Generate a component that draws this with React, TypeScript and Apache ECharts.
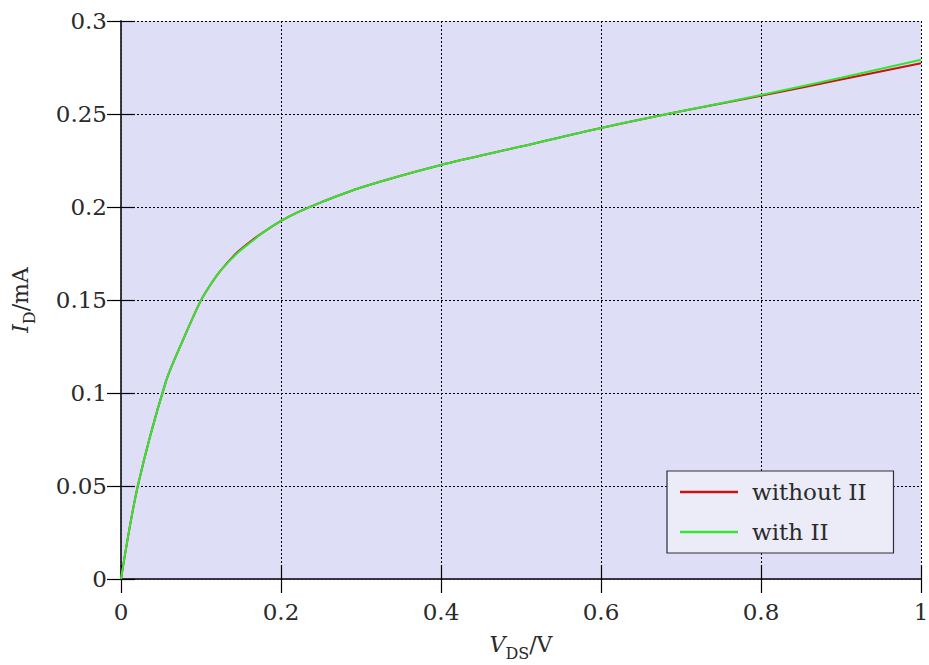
import React, { useEffect, useRef } from "react";
import * as echarts from "echarts";

const vds = [0, 0.021, 0.056, 0.077, 0.099, 0.11, 0.124, 0.145, 0.165, 0.18, 0.2, 0.22, 0.25, 0.3, 0.4, 0.5, 0.6, 0.7, 0.8, 0.9, 1.0];
const idWithout = [0, 0.05, 0.106, 0.128, 0.149, 0.157, 0.1655, 0.1755, 0.1825, 0.187, 0.1925, 0.197, 0.2025, 0.2105, 0.2226, 0.2325, 0.2425, 0.2515, 0.2598, 0.2685, 0.2773];
const idWith = [0, 0.05, 0.106, 0.128, 0.149, 0.157, 0.1655, 0.175, 0.182, 0.187, 0.1925, 0.197, 0.2025, 0.2105, 0.2226, 0.2325, 0.2425, 0.2515, 0.2602, 0.2695, 0.2792];
const seriesNames = ["without II", "with II"];
const xTicks = [0, 0.2, 0.4, 0.6, 0.8, 1];
const yTicks = [0, 0.05, 0.1, 0.15, 0.2, 0.25, 0.3];

const FONT = "DejaVu Serif";
const FRAME = "#2e2e38";
const TEXT = "#2a2a2a";

export default function App() {
  const ref = useRef<HTMLDivElement>(null);
  useEffect(() => {
    const chart = echarts.init(ref.current!, null, { renderer: "svg" });
    const tickStyle = { show: true, inside: true, length: 14, lineStyle: { color: "#000", width: 1.2 } };
    const axisLine = { show: true, lineStyle: { color: FRAME, width: 1.5 } };
    const grid = { show: true, lineStyle: { color: "#000", width: 1, type: [2, 2] as any } };
    const rich = {
      i: { fontFamily: FONT, fontSize: 22, fontStyle: "italic", color: TEXT, lineHeight: 24, verticalAlign: "top" },
      s: { fontFamily: FONT, fontSize: 16, color: TEXT, lineHeight: 16, padding: [12, 0, 0, 0], verticalAlign: "top" },
      n: { fontFamily: FONT, fontSize: 22, color: TEXT, lineHeight: 24, verticalAlign: "top" },
    };
    chart.setOption({
      animation: false,
      backgroundColor: "#ffffff",
      grid: {
        left: 121, top: 21, right: 8, bottom: 86,
        outerBoundsMode: "none", containLabel: false,
        show: true, backgroundColor: "#dedef7", borderWidth: 0,
      },
      legend: {
        data: seriesNames.map((n) => ({ name: n, icon: "rect" })),
        orient: "vertical",
        left: 667, top: 471,
        padding: [8, 27, 8, 13],
        itemGap: 14,
        itemWidth: 58, itemHeight: 2.5,
        backgroundColor: "#ececf9",
        borderColor: FRAME, borderWidth: 1.2, borderRadius: 0,
        textStyle: { fontFamily: FONT, fontSize: 23, color: TEXT, lineHeight: 26, padding: [0, 0, 0, 9] },
        align: "left",
      },
      xAxis: [
        {
          type: "value", min: 0, max: 1, interval: 0.2, position: "bottom",
          axisLine, axisTick: tickStyle, splitLine: grid,
          axisLabel: { fontFamily: FONT, fontSize: 23, color: TEXT, margin: 21,
            formatter: (v: number) => String(xTicks.find((t) => Math.abs(t - v) < 1e-9) ?? v) },
          name: "{i|V}{s|DS}{n|/V}", nameLocation: "middle", nameGap: 54,
          nameTextStyle: { rich },
        },
        {
          type: "value", min: 0, max: 1, interval: 0.2, position: "top",
          axisLine, axisTick: tickStyle, splitLine: { show: false }, axisLabel: { show: false },
        },
      ],
      yAxis: [
        {
          type: "value", min: 0, max: 0.3, interval: 0.05, position: "left",
          axisLine, axisTick: tickStyle, splitLine: grid,
          axisLabel: { fontFamily: FONT, fontSize: 23, color: TEXT, margin: 14,
            formatter: (v: number) => String(yTicks.find((t) => Math.abs(t - v) < 1e-9) ?? v) },
          name: "{i|I}{s|D}{n|/mA}", nameLocation: "middle", nameGap: 88, nameRotate: 90,
          nameTextStyle: { rich },
        },
        {
          type: "value", min: 0, max: 0.3, interval: 0.05, position: "right",
          axisLine, axisTick: tickStyle, splitLine: { show: false }, axisLabel: { show: false },
        },
      ],
      series: [
        {
          name: seriesNames[0], type: "line", symbol: "none", smooth: 0.3,
          data: vds.map((x, i) => [x, idWithout[i]]),
          lineStyle: { color: "#cc1111", width: 2 }, itemStyle: { color: "#cc1111" },
        },
        {
          name: seriesNames[1], type: "line", symbol: "none", smooth: 0.3,
          data: vds.map((x, i) => [x, idWith[i]]),
          lineStyle: { color: "#33e633", width: 2 }, itemStyle: { color: "#33e633" },
        },
      ],
    });
    return () => chart.dispose();
  }, []);
  return <div ref={ref} style={{ width: 929, height: 665, position: "absolute", left: 0, top: 0 }} />;
}
